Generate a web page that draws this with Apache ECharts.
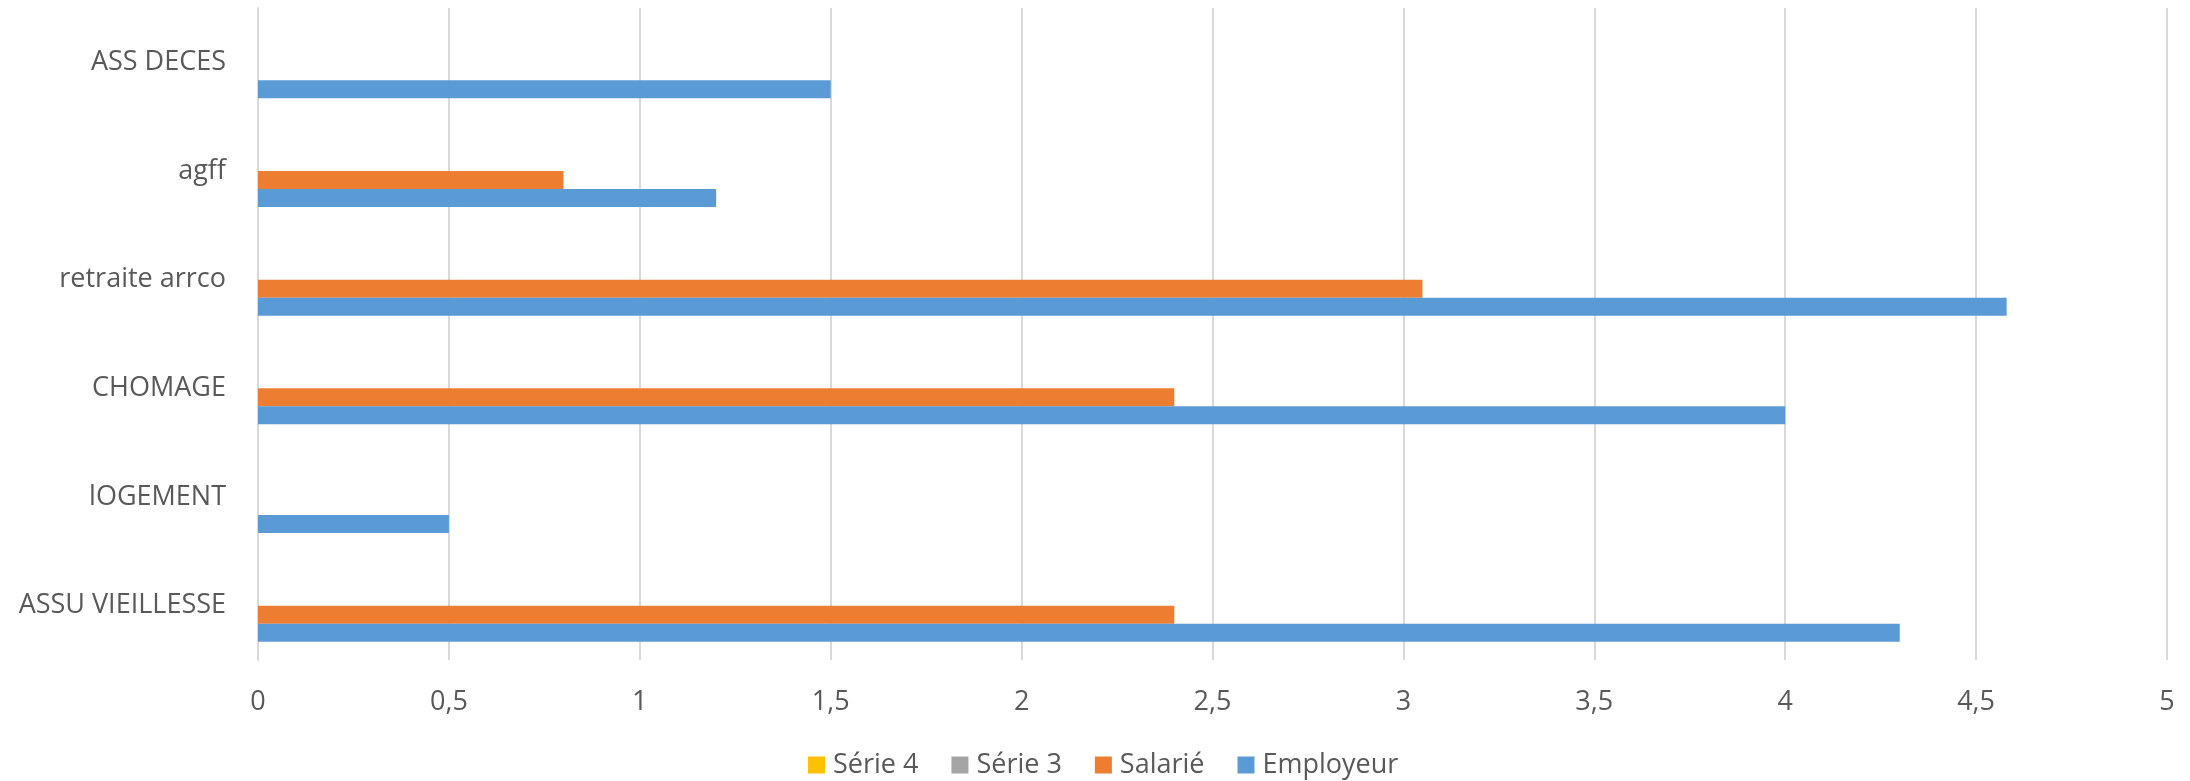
<!DOCTYPE html>
<html>
<head>
<meta charset="utf-8">
<script src="https://cdn.jsdelivr.net/npm/echarts@6/dist/echarts.min.js"></script>
<style>
html,body{margin:0;padding:0;background:#fff;}
#chart{width:2190px;height:781px;}
</style>
</head>
<body>
<div id="chart"></div>
<script>
var categories = ['ASSU VIEILLESSE', 'lOGEMENT', 'CHOMAGE', 'retraite arrco', 'agff', 'ASS DECES'];
var employeur = [4.3, 0.5, 4.0, 4.58, 1.2, 1.5];
var salarie = [2.4, null, 2.4, 3.05, 0.8, null];
var serie3 = [null, null, null, null, null, null];
var serie4 = [null, null, null, null, null, null];
var xTicks = [0, 0.5, 1, 1.5, 2, 2.5, 3, 3.5, 4, 4.5, 5];
var legendOrder = ['Série 4', 'Série 3', 'Salarié', 'Employeur'];

var FONT = '"Open Sans", "Noto Sans", sans-serif';
var TEXT = '#595959';
var FS = 27;

var chart = echarts.init(document.getElementById('chart'), null, {renderer: 'canvas'});
chart.setOption({
  animation: false,
  textStyle: {fontFamily: FONT},
  grid: {left: 258, right: 23, top: 8, bottom: 121, containLabel: false},
  legend: {
    data: legendOrder,
    top: 751,
    left: 808,
    padding: 0,
    itemWidth: 17,
    itemHeight: 17,
    itemGap: 33,
    icon: 'rect',
    textStyle: {fontSize: FS, lineHeight: 28, color: TEXT, fontFamily: FONT, padding: [0, 0, 0, 3]}
  },
  xAxis: {
    type: 'value',
    min: xTicks[0],
    max: xTicks[xTicks.length - 1],
    interval: 0.5,
    axisLine: {show: false},
    axisTick: {show: false},
    splitLine: {show: true, lineStyle: {color: '#d9d9d9', width: 2}},
    axisLabel: {
      fontSize: FS, color: TEXT, margin: 29, fontFamily: FONT,
      formatter: function (v) { return String(v).replace('.', ','); }
    }
  },
  yAxis: {
    type: 'category',
    data: categories,
    axisLine: {show: true, lineStyle: {color: '#d9d9d9', width: 2}},
    axisTick: {show: false},
    splitLine: {show: false},
    axisLabel: {fontSize: FS, color: TEXT, margin: 32, fontFamily: FONT}
  },
  series: [
    {name: 'Série 4', type: 'bar', data: serie4, barWidth: 18, barGap: '0%', itemStyle: {color: '#FFC000'}},
    {name: 'Série 3', type: 'bar', data: serie3, barWidth: 18, barGap: '0%', itemStyle: {color: '#A5A5A5'}},
    {name: 'Salarié', type: 'bar', data: salarie, barWidth: 18, barGap: '0%', itemStyle: {color: '#ED7D31'}},
    {name: 'Employeur', type: 'bar', data: employeur, barWidth: 18, barGap: '0%', itemStyle: {color: '#5B9BD5'}}
  ]
});
</script>
</body>
</html>
